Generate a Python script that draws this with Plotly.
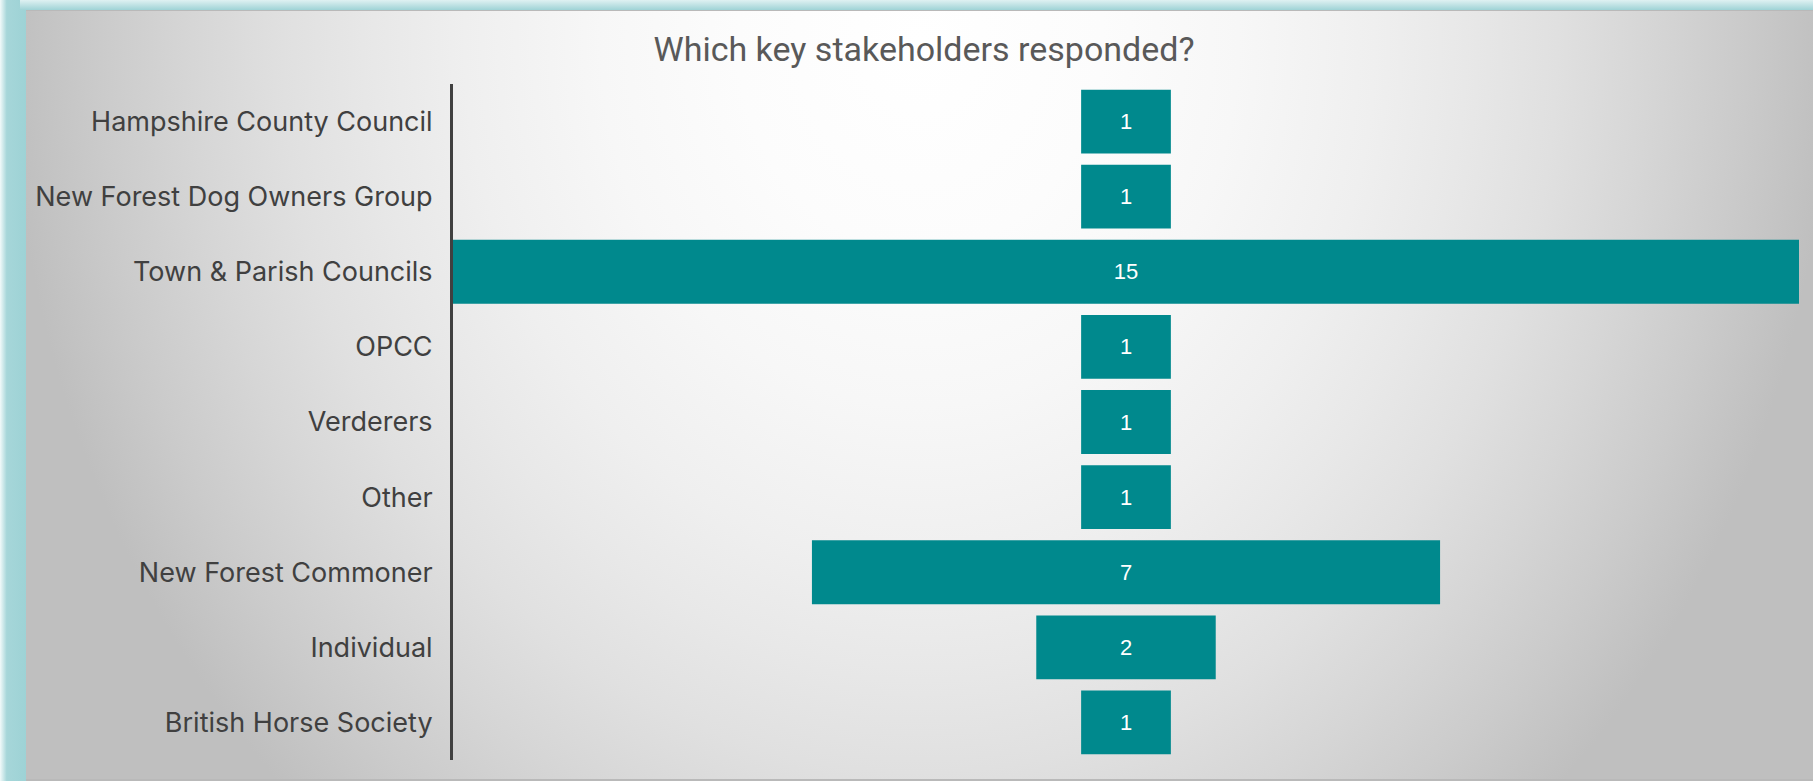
import base64
import plotly.graph_objects as go

# ---- data ----
categories = [
    "Hampshire County Council",
    "New Forest Dog Owners Group",
    "Town & Parish Councils",
    "OPCC",
    "Verderers",
    "Other",
    "New Forest Commoner",
    "Individual",
    "British Horse Society",
]
values = [1, 1, 15, 1, 1, 1, 7, 2, 1]
title_text = "Which key stakeholders responded?"

W, H = 1813, 781

# ---- background (frame + radial gradient) as an SVG image ----
def gray(t):
    v = int(round(255 - 64 * t))
    return "#%02x%02x%02x" % (v, v, v)

stops = "".join(
    f'<stop offset="{o}" stop-color="{gray(o*o)}"/>'
    for o in [0, 0.2, 0.35, 0.5, 0.6, 0.7, 0.8, 0.9, 1.0]
)
cx, cy, rx, ry = 920, 40, 910, 1046
svg = f'''<svg xmlns="http://www.w3.org/2000/svg" width="{W}" height="{H}" viewBox="0 0 {W} {H}">
<defs>
<radialGradient id="bg" gradientUnits="userSpaceOnUse" cx="{cx}" cy="{cy}" r="{rx}"
 gradientTransform="translate({cx},{cy}) scale(1,{ry/rx}) translate({-cx},{-cy})">{stops}</radialGradient>
<linearGradient id="top" x1="0" y1="0" x2="0" y2="1">
<stop offset="0" stop-color="#dff1f2"/><stop offset="1" stop-color="#9fd3d6"/></linearGradient>
<linearGradient id="left" x1="0" y1="0" x2="1" y2="0">
<stop offset="0" stop-color="#f2fafa"/><stop offset="0.25" stop-color="#a6d6d9"/><stop offset="1" stop-color="#9dd2d5"/></linearGradient>
</defs>
<rect x="0" y="0" width="{W}" height="{H}" fill="#ffffff"/>
<rect x="0" y="0" width="27" height="{H}" fill="url(#left)"/>
<rect x="20" y="0" width="{W-20}" height="10" fill="url(#top)"/>
<rect x="26" y="10" width="{W-26}" height="{H-10}" fill="#b9b9b9"/>
<rect x="26" y="11" width="{W-26}" height="{779-11}" fill="url(#bg)"/>
</svg>'''
src = "data:image/svg+xml;base64," + base64.b64encode(svg.encode()).decode()

fig = go.Figure(
    go.Funnel(
        y=categories,
        x=values,
        orientation="h",
        marker=dict(color="#00898d", line=dict(width=0)),
        connector=dict(visible=False),
        textinfo="value",
        textposition="inside",
        insidetextanchor="middle",
        textfont=dict(color="#ffffff", size=22, family="Liberation Sans, Arial, sans-serif"),
        hoverinfo="y+x",
    )
)

fig.update_layout(
    width=W,
    height=H,
    margin=dict(l=0, r=0, t=0, b=0),
    paper_bgcolor="#ffffff",
    plot_bgcolor="rgba(0,0,0,0)",
    funnelgap=0.15,
    showlegend=False,
    title=dict(
        text=title_text,
        x=924 / W,
        xanchor="center",
        xref="container",
        y=1 - 49 / H,
        yanchor="middle",
        yref="container",
        font=dict(family="Roboto, sans-serif", size=34, color="#595959"),
    ),
    images=[
        dict(
            source=src,
            xref="paper",
            yref="paper",
            x=0,
            y=1,
            sizex=1,
            sizey=1,
            xanchor="left",
            yanchor="top",
            sizing="stretch",
            layer="below",
        )
    ],
    xaxis=dict(
        visible=False,
        range=[-7.5, 7.5],
        domain=[453 / W, 1799 / W],
        fixedrange=True,
    ),
    yaxis=dict(
        domain=[1 - 760 / H, 1 - 84 / H],
        showline=True,
        linecolor="#404040",
        linewidth=3,
        ticks="outside",
        ticklen=12,
        tickcolor="rgba(0,0,0,0)",
        showgrid=False,
        zeroline=False,
        tickfont=dict(family="Inter, sans-serif", size=27, color="#404040"),
        automargin=False,
    ),
)

fig.write_html(
    "out.html",
    config={"displayModeBar": False},
    post_script="document.body.style.margin='0';document.body.style.overflow='hidden';",
)
